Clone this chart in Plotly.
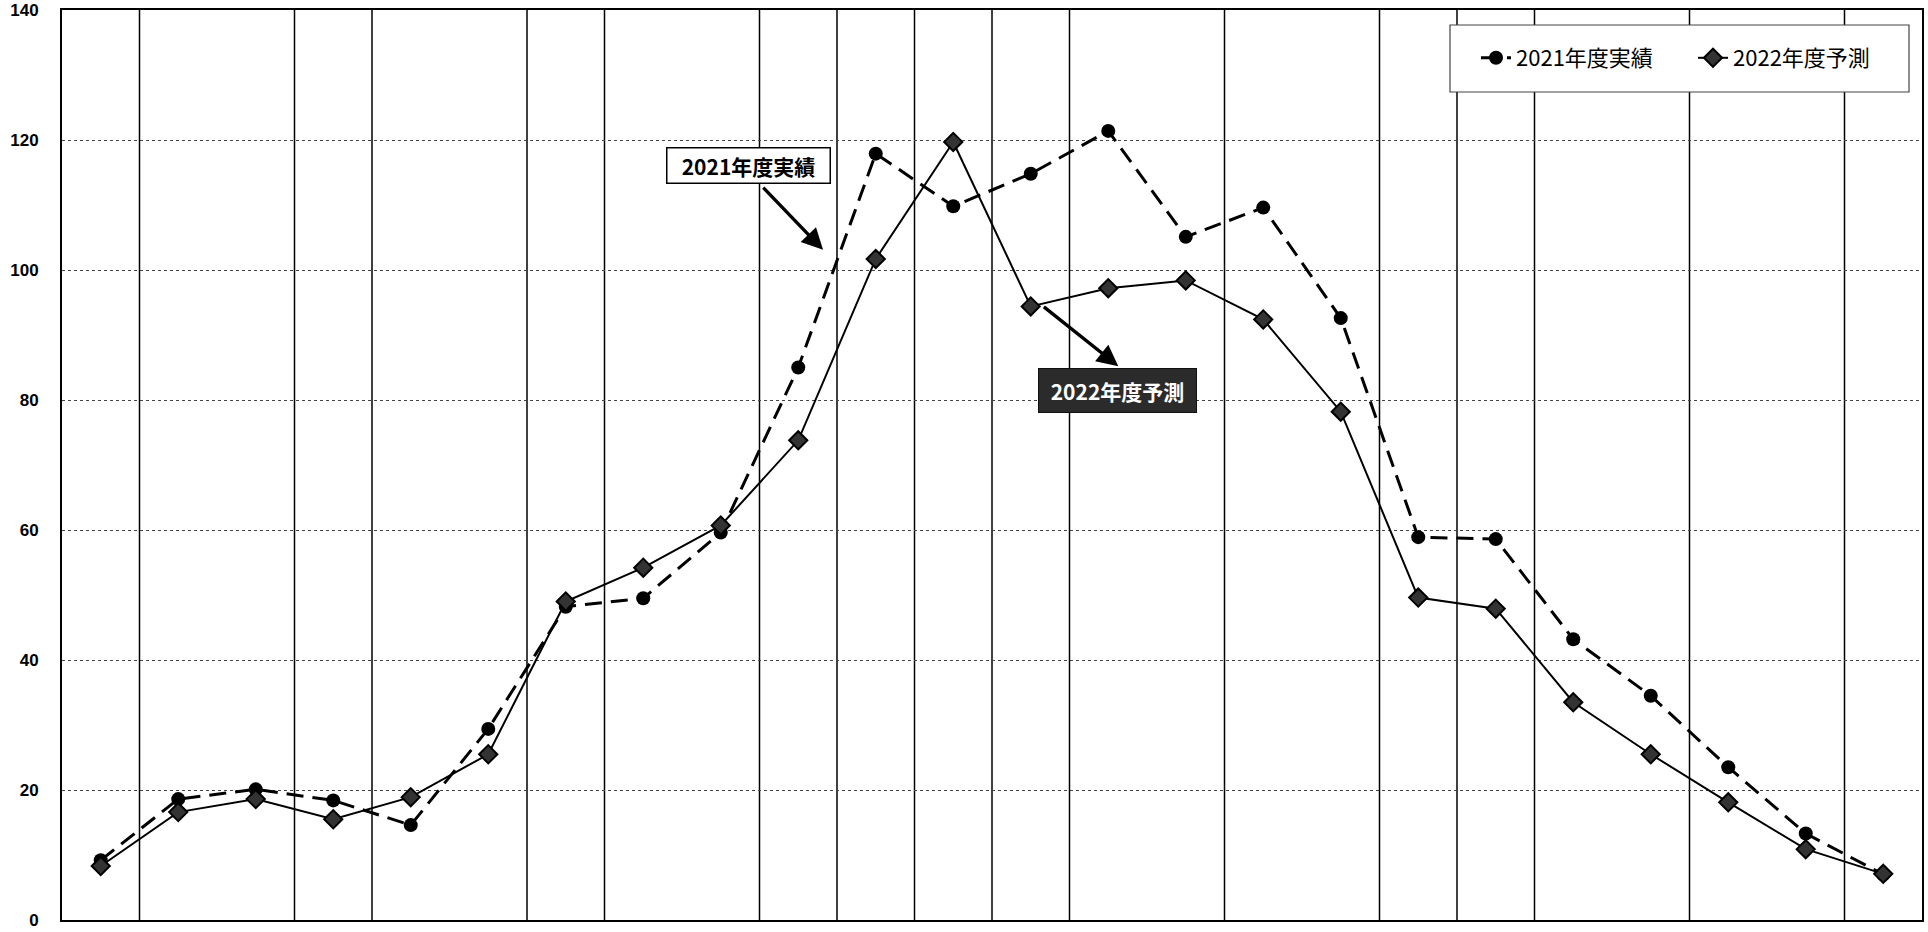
import plotly.graph_objects as go

# ---- data ----
periods = [1, 2, 3, 4, 5, 6, 7, 8, 9, 10, 11, 12,
           13, 14, 15, 16, 17, 18, 19, 20, 21, 22, 23, 24]
actual_2021 = [9.2, 18.6, 20.1, 18.4, 14.6, 29.4, 48.2, 49.5, 59.6, 85.0, 117.9, 109.8,
               114.8, 121.4, 105.1, 109.6, 92.6, 58.9, 58.6, 43.2, 34.5, 23.5, 13.3, 7.0]
forecast_2022 = [8.3, 16.6, 18.6, 15.5, 18.9, 25.5, 49.0, 54.2, 60.7, 73.8, 101.7, 119.7,
                 94.4, 97.2, 98.4, 92.4, 78.2, 49.6, 47.9, 33.5, 25.5, 18.1, 10.9, 7.1]
name_2021 = "2021年度実績"
name_2022 = "2022年度予測"
y_ticks = [0, 20, 40, 60, 80, 100, 120, 140]
# periods after which a vertical separator line is drawn
separator_after = [1, 3, 4, 6, 7, 9, 10, 11, 12, 13, 15, 17, 18, 19, 21, 23]

W, H = 1928, 932
L, R, T, B = 62, 6, 10, 12
CJK = "Noto Sans CJK JP"

fig = go.Figure()
fig.add_trace(go.Scatter(
    x=periods, y=actual_2021, name=name_2021, mode="lines+markers",
    line=dict(color="black", width=3, dash="17px,9px"),
    marker=dict(symbol="circle", size=14, color="black"),
))
fig.add_trace(go.Scatter(
    x=periods, y=forecast_2022, name=name_2022, mode="lines+markers",
    line=dict(color="black", width=2),
    marker=dict(symbol="diamond", size=14, color="#333333",
                line=dict(color="black", width=2)),
))

shapes = []
for k in separator_after:
    shapes.append(dict(type="line", xref="x", yref="paper", x0=k + 0.5, x1=k + 0.5,
                       y0=0, y1=1, line=dict(color="black", width=1.5), layer="below"))


def px_x(p):
    return (p - L) / (W - L - R)


def px_y(p):
    return 1 - (p - T) / (H - T - B)


# legend frame
shapes.append(dict(type="rect", xref="paper", yref="paper",
                   x0=px_x(1450), x1=px_x(1909), y0=px_y(92), y1=px_y(25),
                   fillcolor="white", line=dict(color="#444444", width=1.2), layer="above"))

annotations = [
    dict(x=9.36, y=116.1, xref="x", yref="y", text="<b>2021年度実績</b>", showarrow=False,
         font=dict(family=CJK, size=21, color="black"), bgcolor="white",
         bordercolor="black", borderwidth=1.5, width=160, height=32, borderpad=1),
    dict(x=10.32, y=103.1, ax=9.53, ay=112.9, xref="x", yref="y", axref="x", ayref="y",
         text="", showarrow=True, arrowhead=2, arrowsize=1.25, arrowwidth=3.4,
         arrowcolor="black", standoff=0, startstandoff=0),
    dict(x=14.12, y=81.5, xref="x", yref="y", text="<b>2022年度予測</b>", showarrow=False,
         font=dict(family=CJK, size=21, color="white"), bgcolor="#2b2b2b",
         bordercolor="#111111", borderwidth=1, width=155, height=41, borderpad=1),
    dict(x=14.13, y=85.2, ax=13.15, ay=94.5, xref="x", yref="y", axref="x", ayref="y",
         text="", showarrow=True, arrowhead=2, arrowsize=1.25, arrowwidth=3.4,
         arrowcolor="black", standoff=0, startstandoff=0),
]

fig.update_layout(
    width=W, height=H,
    margin=dict(l=L, r=R, t=T, b=B, pad=0, autoexpand=False),
    paper_bgcolor="white", plot_bgcolor="white",
    font=dict(family="Liberation Sans", color="black"),
    showlegend=True,
    legend=dict(orientation="h", x=px_x(1476), y=px_y(58), xanchor="left", yanchor="middle",
                bgcolor="rgba(0,0,0,0)", borderwidth=0,
                font=dict(family=CJK, size=22, color="black"),
                entrywidth=172, entrywidthmode="pixels", itemwidth=30),
    shapes=shapes,
    annotations=annotations,
    xaxis=dict(range=[0.5, 24.5], showgrid=False, zeroline=False, showticklabels=False,
               ticks="", showline=True, linecolor="black", linewidth=2, mirror=True),
    yaxis=dict(range=[0, 140], tickvals=y_ticks, showgrid=True, gridcolor="#444444",
               griddash="dot", gridwidth=1, zeroline=False, ticks="",
               showline=True, linecolor="black", linewidth=2, mirror=True,
               tickfont=dict(family="Liberation Sans", size=17, color="black", weight="bold"),
               ticklabelstandoff=18),
)

post = (
    "document.documentElement.style.margin='0';"
    "document.documentElement.style.overflow='hidden';"
    "document.body.style.margin='0';"
    "document.body.style.overflow='hidden';"
)
fig.write_html("out.html", post_script=post, config={"displayModeBar": False})
